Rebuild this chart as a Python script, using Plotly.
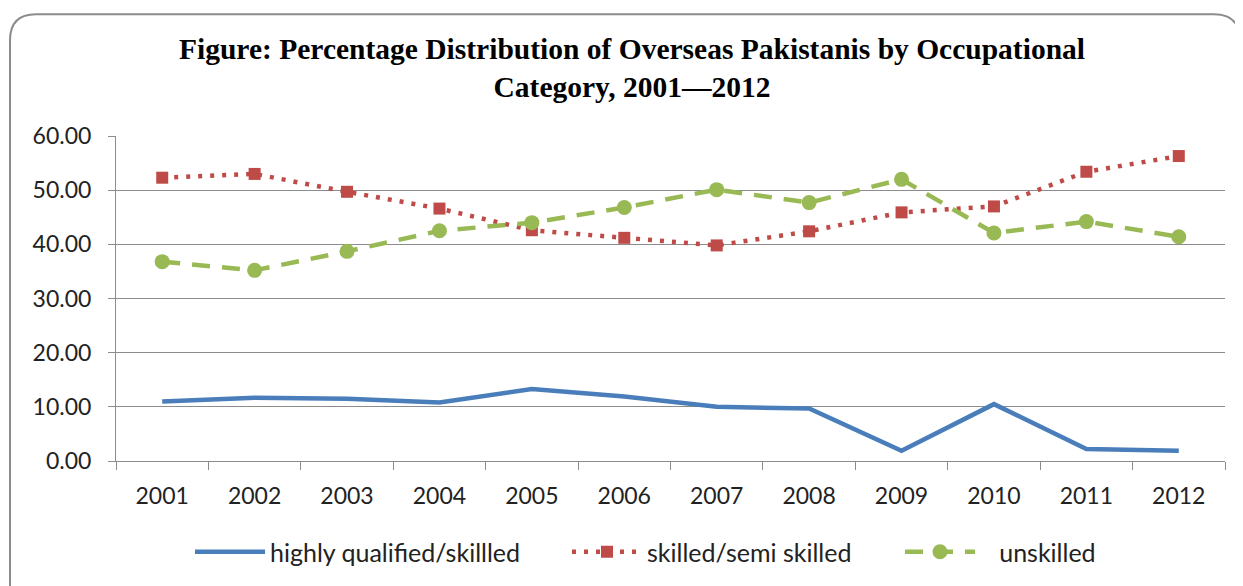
import plotly.graph_objects as go

years = ["2001", "2002", "2003", "2004", "2005", "2006", "2007", "2008", "2009", "2010", "2011", "2012"]
highly_qualified = [11.0, 11.7, 11.5, 10.8, 13.3, 11.9, 10.0, 9.7, 1.9, 10.5, 2.2, 1.9]
skilled_semi = [52.3, 53.0, 49.7, 46.6, 42.6, 41.2, 39.8, 42.4, 45.9, 47.0, 53.4, 56.3]
unskilled = [36.8, 35.2, 38.7, 42.5, 44.0, 46.8, 50.1, 47.7, 52.0, 42.1, 44.2, 41.4]

# page body adds an 8px offset; screen-space plot area = 116..1225 x 136..462
OFF = 8
W, H = 1243 - OFF, 586 - OFF
SL, SR, ST, SB = 116, 1225, 136, 462
L, T = SL - OFF, ST - OFF
R, B = W - (SR - OFF), H - (SB - OFF)
pw, ph = SR - SL, SB - ST

def px(x):
    return (x - SL) / pw

def py(y):
    return (SB - y) / ph

fig = go.Figure()
fig.add_trace(go.Scatter(x=years, y=highly_qualified, mode="lines", name="highly qualified/skillled",
                         line=dict(color="#4A7EBB", width=4.5), legend="legend"))
fig.add_trace(go.Scatter(x=years, y=skilled_semi, mode="lines+markers", name="skilled/semi skilled",
                         line=dict(color="#BE4B48", width=4.5, dash="4px,8px"),
                         marker=dict(symbol="square", size=12, color="#BE4B48"), legend="legend2"))
fig.add_trace(go.Scatter(x=years, y=unskilled, mode="lines+markers", name="\u00a0\u00a0\u00a0unskilled",
                         line=dict(color="#98B954", width=4.5, dash="18px,12px"),
                         marker=dict(symbol="circle", size=15, color="#98B954"), legend="legend3"))

# rounded border around chart area (screen coords)
x0, y0, x1, y1, r = 10, 14, 1240, 610, 26
path = (f"M {px(x0)},{py(y0 + r)} "
        f"Q {px(x0)},{py(y0)} {px(x0 + r)},{py(y0)} "
        f"L {px(x1 - r)},{py(y0)} "
        f"Q {px(x1)},{py(y0)} {px(x1)},{py(y0 + r)} "
        f"L {px(x1)},{py(y1)} L {px(x0)},{py(y1)} Z")
fig.add_shape(type="path", path=path, xref="paper", yref="paper",
              line=dict(color="#8C8C8C", width=2), layer="below")

leg_common = dict(orientation="h", yanchor="middle", y=py(552), xanchor="left",
                  font=dict(family="Lato", size=25, color="#222222"), bgcolor="rgba(0,0,0,0)",
                  itemwidth=70)

fig.update_layout(
    width=W, height=H,
    margin=dict(l=L, r=R, t=T, b=B),
    paper_bgcolor="white", plot_bgcolor="white",
    title=dict(text="<b>Figure: Percentage Distribution of Overseas Pakistanis by Occupational<br>Category, 2001\u20142012</b>",
               x=px(632), xref="paper", xanchor="center", y=1 - 51 / H, yanchor="top",
               font=dict(family="Liberation Serif", size=29.5, color="black")),
    font=dict(family="Lato", size=23, color="#222222"),
    showlegend=True,
    legend=dict(x=px(190), **leg_common),
    legend2=dict(x=px(567), **leg_common),
    legend3=dict(x=px(900), **leg_common),
    xaxis=dict(type="category", showline=True, linecolor="#8C8C8C", linewidth=1,
               ticks="outside", tickson="boundaries", ticklen=8, tickcolor="#8C8C8C",
               showgrid=False, tickfont=dict(size=23), range=[-0.5, 11.5],
               ticklabelstandoff=14),
    yaxis=dict(range=[0, 60], dtick=10, tickformat=".2f", showline=True, linecolor="#8C8C8C",
               linewidth=1, ticks="outside", ticklen=7, tickcolor="#8C8C8C",
               showgrid=True, gridcolor="#8C8C8C", gridwidth=1, zeroline=False,
               tickfont=dict(size=23), ticklabelstandoff=12),
)
fig.write_html("out.html")
